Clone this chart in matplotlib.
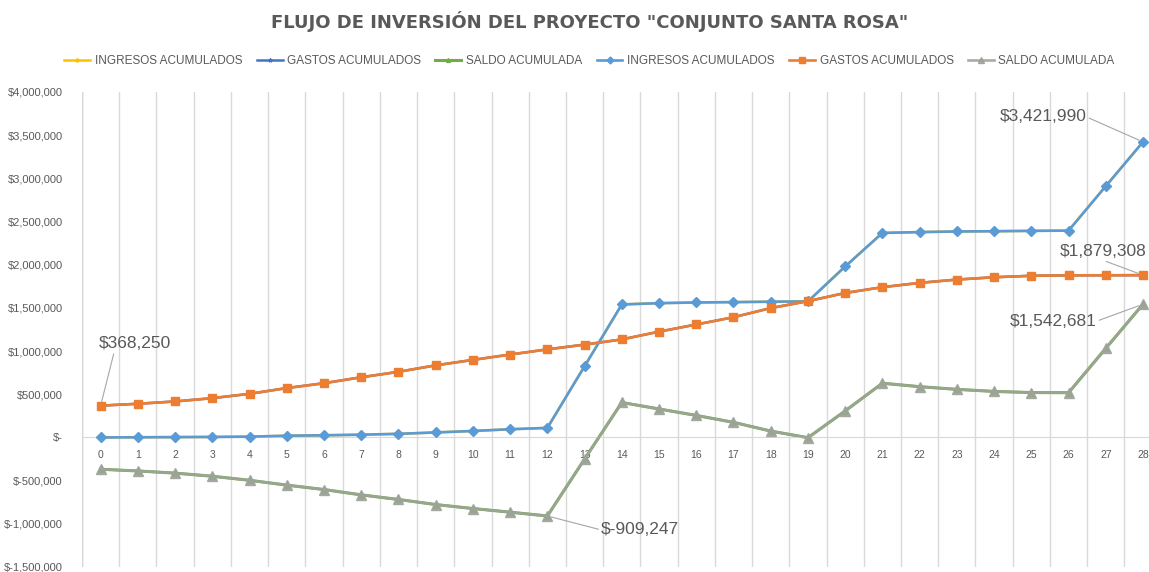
import matplotlib
matplotlib.use("Agg")
import matplotlib.pyplot as plt
from matplotlib.ticker import FuncFormatter, MultipleLocator

# periodos del proyecto (meses)
periodos = list(range(29))

ingresos = [0, 2000, 4000, 6000, 9000, 20000, 25000, 32000, 42000, 58000,
            75000, 95000, 110753, 825000, 1540000, 1555000, 1563000, 1567000,
            1572000, 1575000, 1980000, 2368000, 2378000, 2385000, 2388000,
            2392000, 2395000, 2910000, 3421990]

gastos = [368250, 390000, 417000, 455000, 505000, 572000, 628000, 697000,
          760000, 835000, 898000, 960000, 1020000, 1075000, 1135000, 1225000,
          1308000, 1392000, 1498000, 1578000, 1673000, 1740000, 1790000,
          1828000, 1855000, 1872000, 1877000, 1878000, 1879308]

saldo = [-368250, -388000, -413000, -449000, -496000, -552000, -603000,
         -665000, -718000, -777000, -823000, -865000, -909247, -250000,
         405000, 330000, 255000, 175000, 74000, -3000, 307000, 628000, 588000,
         557000, 533000, 520000, 518000, 1032000, 1542681]

titulo = 'FLUJO DE INVERSIÓN DEL PROYECTO "CONJUNTO SANTA ROSA"'
GRIS_TXT = "#595959"

plt.rcParams["font.family"] = ["Liberation Sans", "DejaVu Sans"]

fig = plt.figure(figsize=(11.49, 5.72), dpi=100)
ax = fig.add_axes([82 / 1149, 1 - 567 / 572, 1 - 82 / 1149, (567 - 92) / 572])

# primera serie (queda por debajo)
ax.plot(periodos, ingresos, color="#FFC000", lw=1.8, marker="o", ms=3,
        label="INGRESOS ACUMULADOS", zorder=2)
ax.plot(periodos, gastos, color="#4472C4", lw=1.8, marker="*", ms=4,
        label="GASTOS ACUMULADOS", zorder=2)
ax.plot(periodos, saldo, color="#70AD47", lw=2.2, marker="^", ms=4,
        label="SALDO ACUMULADA", zorder=2)
# segunda serie
ax.plot(periodos, ingresos, color="#5B9BD5", lw=1.9, marker="D", ms=5,
        label="INGRESOS ACUMULADOS", zorder=3)
ax.plot(periodos, gastos, color="#ED7D31", lw=1.9, marker="s", ms=6,
        label="GASTOS ACUMULADOS", zorder=3)
ax.plot(periodos, saldo, color="#9EA39A", lw=1.9, marker="^", ms=6.5,
        alpha=0.9, label="SALDO ACUMULADA", zorder=3)

ax.set_ylim(-1500000, 4000000)
ax.set_xlim(-0.5, 28 + 6 / 37.25)

ax.yaxis.set_major_locator(MultipleLocator(500000))


def fmt_pesos(v, pos=None):
    if v == 0:
        return "$-"
    return f"${v:,.0f}"


ax.yaxis.set_major_formatter(FuncFormatter(fmt_pesos))
ax.set_xticks(periodos)
ax.set_xticks([p - 0.5 for p in periodos], minor=True)
ax.grid(True, which="minor", axis="x", color="#D9D9D9", lw=1)
ax.tick_params(axis="both", which="both", length=0)
ax.tick_params(axis="y", labelsize=8, labelcolor=GRIS_TXT, pad=14)
ax.tick_params(axis="x", labelsize=7.5, labelcolor=GRIS_TXT, pad=9)

for s in ["top", "right", "left"]:
    ax.spines[s].set_visible(False)
ax.spines["bottom"].set_position(("data", 0))
ax.spines["bottom"].set_color("#D9D9D9")
ax.axvline(-0.5, color="#BFBFBF", lw=1, zorder=1)

# etiquetas de datos
lbl = dict(textcoords="offset pixels", fontsize=12.5, color=GRIS_TXT,
           ha="center", va="center", zorder=5)


def etiqueta(i, serie, dx, dy, rel):
    v = serie[i]
    ax.annotate(f"${v:,}", xy=(periodos[i], v), xytext=(dx, dy),
                arrowprops=dict(arrowstyle="-", color="#A6A6A6", lw=0.8,
                                relpos=rel, shrinkA=0, shrinkB=3),
                **lbl)


etiqueta(0, gastos, 34, 62, (0.22, 0.0))
etiqueta(28, ingresos, -100, 25, (1.0, 0.5))
etiqueta(28, gastos, -40, 24, (0.45, 0.0))
etiqueta(28, saldo, -90, -17, (1.0, 0.5))
etiqueta(12, saldo, 93, -14, (0.0, 0.5))

fig.text(0.513, 1 - 22 / 572, titulo, ha="center", va="center",
         fontsize=13, fontweight="bold", color=GRIS_TXT,
         family="DejaVu Sans")

fig.legend(loc="center", bbox_to_anchor=(0.513, 1 - 61 / 572), ncol=6,
           frameon=False, fontsize=8.5, labelcolor=GRIS_TXT,
           handlelength=2.2, columnspacing=1.2, handletextpad=0.4,
           markerscale=0.7)

fig.savefig("out.png", dpi=100, facecolor="white")
